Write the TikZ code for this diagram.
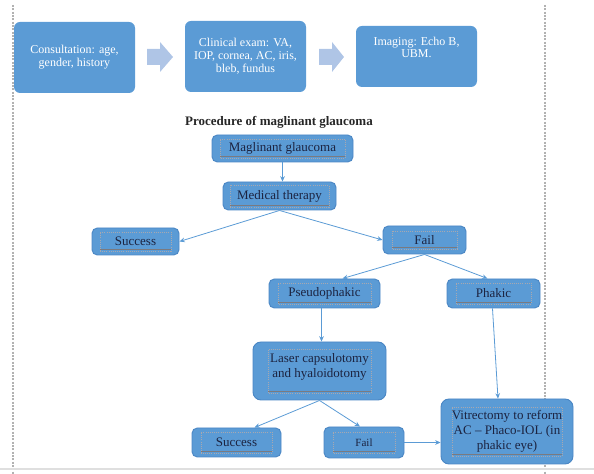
\documentclass[tikz,border=0pt]{standalone}
\usepackage{fontspec}
\setmainfont{Liberation Serif}
\usetikzlibrary{arrows.meta,calc}
\definecolor{boxblue}{HTML}{5B9BD5}
\definecolor{boxedge}{HTML}{4A86C4}
\definecolor{arrowblue}{HTML}{AFC5E6}
\definecolor{linkblue}{HTML}{5B9BD5}
\definecolor{inktext}{HTML}{1C2340}
\definecolor{framegray}{HTML}{A8A8B0}
\definecolor{linegray}{HTML}{7A7A80}
\begin{document}
\begin{tikzpicture}[x=0.75pt,y=-0.75pt,
  topbox/.style={fill=boxblue, rounded corners=4.5pt, text=white, align=center,
    font=\fontsize{9}{9.75}\selectfont, inner sep=0pt},
  toptext/.style={text=white, align=center, font=\fontsize{9}{8.4}\selectfont, inner sep=0pt},
  lowbox/.style={fill=boxblue, draw=boxedge, line width=0.7pt, rounded corners=4pt,
    text=inktext, align=center, font=\fontsize{9.75}{11.25}\selectfont, inner sep=0pt},
  sz/.style 2 args={minimum width=#1*0.75pt, minimum height=#2*0.75pt},
  frm/.style 2 args={path picture={
    \draw[framegray, densely dotted, line width=0.6pt, sharp corners]
      ([shift={(#1*0.75pt,#2*0.75pt)}]path picture bounding box.south west)
      rectangle ([shift={(-#1*0.75pt,-#2*0.75pt)}]path picture bounding box.north east);
    \draw[linegray, line width=0.6pt, sharp corners]
      ([shift={(#1*0.75pt,#2*0.75pt+1.2pt)}]path picture bounding box.south west)
      -- ([shift={(-#1*0.75pt,#2*0.75pt+1.2pt)}]path picture bounding box.south east);}},
  link/.style={draw=linkblue, line width=0.6pt, -{Stealth[length=4pt,width=3.5pt]}},
  blockarrow/.style={fill=arrowblue},
  pagerule/.style={gray!60, line width=0.8pt, dash pattern=on 1.5pt off 1pt}]
\useasboundingbox (0,0) rectangle (594,474);

% page rules
\draw[pagerule] (13,5) -- (13,474);
\draw[pagerule] (545,5) -- (545,474);
\draw[gray!25, line width=0.8pt] (0,469) -- (594,469);

% top row
\node[topbox, sz={121}{71}] (cons) at (74.5,57.5) {Consultation: age,\\gender, history};
\node[topbox, sz={121}{71}] (clin) at (245.5,56.5) {Clinical exam: VA,\\IOP, cornea, AC, iris,\\bleb, fundus};
\node[topbox, sz={121}{61}] (imag) at (416.5,56.5) {};
\node[toptext] (imagtxt) at (416.5,47.5) {Imaging: Echo B,\\UBM.};
\fill[blockarrow] (147,49) -- (160,49) -- (160,42) -- (173,57) -- (160,72) -- (160,65) -- (147,65) -- cycle;
\fill[blockarrow] (319,49) -- (332,49) -- (332,42) -- (344,57) -- (332,72) -- (332,65) -- (319,65) -- cycle;

% title
\node[font=\bfseries\fontsize{9.75}{11}\selectfont, text=black!85, inner sep=0pt] (title) at (279,122) {Procedure of maglinant glaucoma};

% flowchart
\node[lowbox, sz={141}{27}, frm={8}{4}] (mg) at (282.5,148.5) {Maglinant glaucoma};
\node[lowbox, sz={113}{28}, frm={7}{3}] (mt) at (279.5,196) {Medical therapy};
\node[lowbox, sz={87}{27}, frm={8}{4}] (s1) at (135.5,241.5) {Success};
\node[lowbox, sz={83}{28}, frm={9}{5}] (f1) at (424.5,240) {Fail};
\node[lowbox, sz={111}{29}, frm={9}{4}] (pp) at (324.5,293.5) {Pseudophakic};
\node[lowbox, sz={93}{29}, frm={9}{4}] (ph) at (493.5,293.5) {Phakic};
\node[lowbox, sz={133}{58}, frm={15}{7}, rounded corners=6pt] (laser) at (319.5,371) {Laser capsulotomy\\and hyaloidotomy\rule[-9pt]{0pt}{0pt}};
\node[lowbox, sz={89}{29}, frm={9}{4}] (s2) at (236.5,442.5) {Success};
\node[lowbox, sz={80}{31}, frm={9}{5}, font=\fontsize{8.25}{10}\selectfont] (f2) at (364,442.5) {Fail};
\node[lowbox, sz={132}{65}, frm={11}{8}, rounded corners=6pt] (vit) at (507,431.5) {Vitrectomy to reform\\AC -- Phaco-IOL (in\\phakic eye)};

% connectors
\draw[link] (mg.south) -- (mg.south |- mt.north);
\draw[link] (mt.south) -- (s1.east);
\draw[link] (mt.south) -- (f1.west);
\draw[link] (f1.south) -- ($(pp.north)+(18,0)$);
\draw[link] (f1.south) -- ($(ph.north)+(-6,0)$);
\draw[link] ($(laser.north |- pp.south)+(2,0)$) -- ($(laser.north)+(2,0)$);
\draw[link] ($(ph.south)+(-1,0)$) -- ($(vit.north)+(-9,0)$);
\draw[link] (laser.south) -- ($(s2.north)+(18,0)$);
\draw[link] (laser.south) -- ($(f2.north)+(-4,0)$);
\draw[link] (f2.east) -- (f2.east -| vit.west);
\end{tikzpicture}
\end{document}
